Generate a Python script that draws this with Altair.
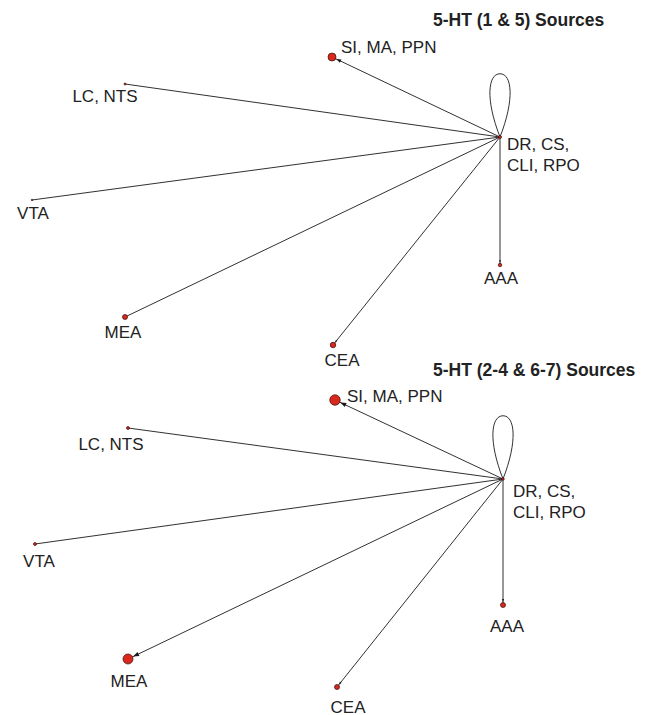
import altair as alt
import numpy as np
import pandas as pd

# ---- data -----------------------------------------------------------------
keys = ["SI", "LC", "VTA", "MEA", "CEA", "AAA", "DR"]
labels = ["SI, MA, PPN", "LC, NTS", "VTA", "MEA", "CEA", "AAA", "DR, CS,\nCLI, RPO"]
label_align = ["left", "center", "center", "center", "center", "center", "left"]

panels = ["5-HT (1 & 5) Sources", "5-HT (2-4 & 6-7) Sources"]
title_x = [433, 433]
title_y = [26, 376]

top_x = [332, 125, 32, 125, 333, 500, 500]
top_y = [57, 84, 200, 317, 345, 265, 137]
top_d = [8, 2, 1.6, 5, 5.5, 3.5, 3]
top_lx = [341, 105, 33, 123, 342, 501, 507]
top_ly = [53, 102, 219, 338, 366, 284, 150]
top_arrow = [5, 0, 0, 0, 2.5, 2.5, 0]

bot_x = [335, 128, 35, 128, 337, 503, 503]
bot_y = [400, 428, 544, 659, 687, 605, 479]
bot_d = [10.5, 3, 3, 10, 5, 5, 2.5]
bot_lx = [347, 111, 39, 129, 348, 507, 513]
bot_ly = [402, 450, 567, 687, 713, 632, 497]
bot_arrow = [6, 0, 0, 6, 3, 3, 0]

hub = "DR"

# ---- tables -----------------------------------------------------------------
rows = []
for p, xs, ys, ds, lxs, lys, arr in [
    (panels[0], top_x, top_y, top_d, top_lx, top_ly, top_arrow),
    (panels[1], bot_x, bot_y, bot_d, bot_lx, bot_ly, bot_arrow),
]:
    for k, lab, al, x, y, d, lx, ly, a in zip(keys, labels, label_align, xs, ys, ds, lxs, lys, arr):
        rows.append(dict(panel=p, key=k, label=lab, anchor=al, x=x, y=y,
                         size=d * d, lx=lx, ly=ly, arrow=a, d=d))
nodes = pd.DataFrame(rows)

edge_rows = []
arrow_rows = []
for p in panels:
    sub = nodes[nodes["panel"] == p]
    h = sub[sub["key"] == hub].iloc[0]
    for _, r in sub[sub["key"] != hub].iterrows():
        edge_rows.append(dict(panel=p, x=h["x"], y=h["y"], x2=r["x"], y2=r["y"]))
        if r["arrow"] > 0:
            dx, dy = r["x"] - h["x"], r["y"] - h["y"]
            L = np.hypot(dx, dy)
            ux, uy = dx / L, dy / L
            off = r["d"] / 2 + 0.6
            ang = (np.degrees(np.arctan2(dy, dx)) + 360) % 360
            arrow_rows.append(dict(panel=p, x=r["x"] - ux * off, y=r["y"] - uy * off,
                                   angle=ang, size=(2 * r["arrow"]) ** 2))
edges = pd.DataFrame(edge_rows)
arrows = pd.DataFrame(arrow_rows)
hubs = nodes[nodes["key"] == hub]
titles = pd.DataFrame(dict(title=panels, x=title_x, y=title_y))

X = alt.Scale(domain=[8, 638])
Y = alt.Scale(domain=[8, 715], reverse=True)
FONT = "Liberation Sans"

def xe(f="x"):
    return alt.X(f"{f}:Q", scale=X, axis=None)

def ye(f="y"):
    return alt.Y(f"{f}:Q", scale=Y, axis=None)

edge_layer = alt.Chart(edges).mark_rule(color="#1a1a1a", strokeWidth=0.9).encode(
    x=xe(), y=ye(), x2="x2:Q", y2="y2:Q")

loop_path = "M0,0 C-0.47,-1.2 -0.38,-2 0,-2 C0.38,-2 0.47,-1.2 0,0"
loop_layer = alt.Chart(hubs).mark_point(
    shape=loop_path, filled=False, color="#1a1a1a", strokeWidth=0.9, opacity=1
).encode(x=xe(), y=ye(), size=alt.value(4000))

arrow_layer = alt.Chart(arrows).mark_point(
    shape="M0,0 L-1,-0.38 L-1,0.38 Z", filled=True, color="#1a1a1a", opacity=1
).encode(x=xe(), y=ye(), angle=alt.Angle("angle:Q", scale=None),
         size=alt.Size("size:Q", scale=None))

node_layer = alt.Chart(nodes).mark_circle(
    color="#d8291c", stroke="#3a0d08", strokeWidth=0.7, opacity=1
).encode(x=xe(), y=ye(), size=alt.Size("size:Q", scale=None))

lab_left = alt.Chart(nodes[nodes["anchor"] == "left"]).mark_text(
    align="left", baseline="alphabetic", font=FONT, fontSize=17, color="#222222",
    lineBreak="\n", lineHeight=21
).encode(x=xe("lx"), y=ye("ly"), text="label:N")

lab_center = alt.Chart(nodes[nodes["anchor"] == "center"]).mark_text(
    align="center", baseline="alphabetic", font=FONT, fontSize=17, color="#222222"
).encode(x=xe("lx"), y=ye("ly"), text="label:N")

title_layer = alt.Chart(titles).mark_text(
    align="left", baseline="alphabetic", font=FONT, fontSize=17.5, fontWeight="bold",
    color="#222222"
).encode(x=xe(), y=ye(), text="title:N")

chart = alt.layer(
    edge_layer, loop_layer, arrow_layer, node_layer, lab_left, lab_center, title_layer
).properties(
    width=630, height=707, padding=0,
    autosize=alt.AutoSizeParams(type="none"),
).configure_view(stroke=None)

chart.save("out.html", embed_options={"renderer": "svg", "actions": False})
